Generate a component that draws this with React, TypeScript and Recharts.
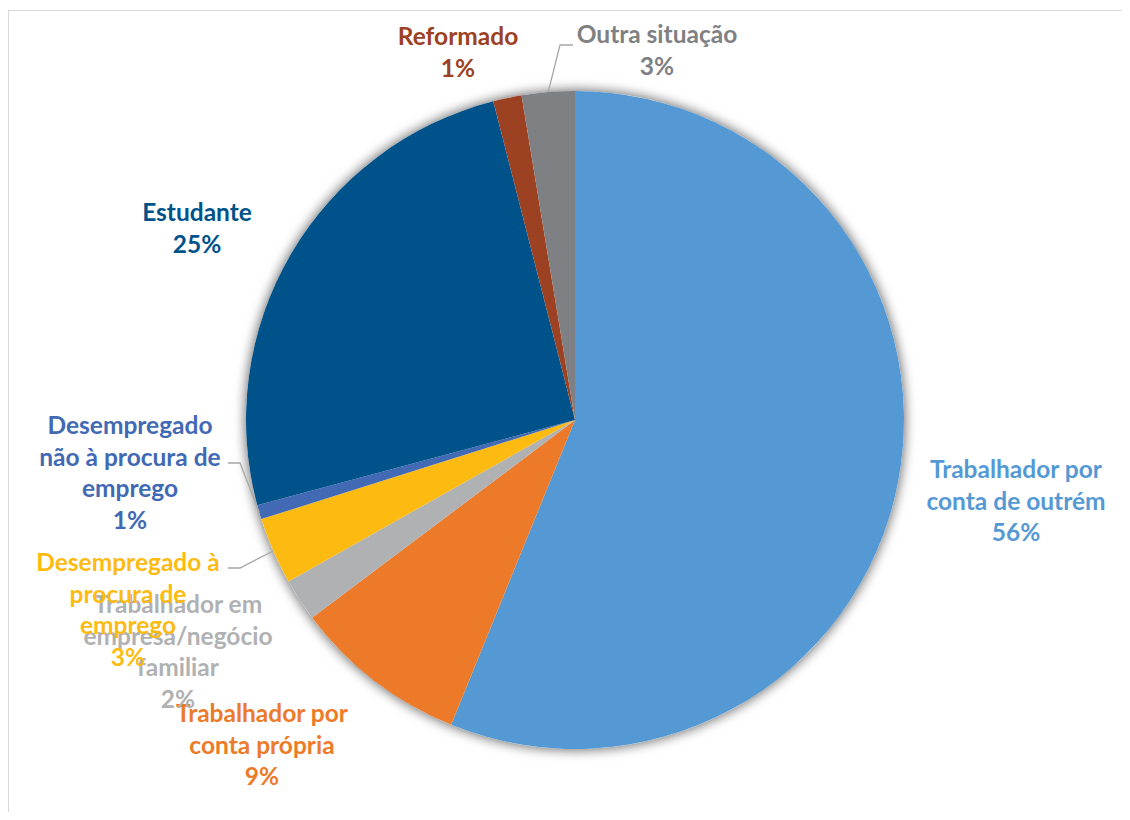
import React from 'react';
import { PieChart, Pie, Cell } from 'recharts';

// Categories, clockwise from 12 o'clock
const categories = [
  ['Trabalhador por', 'conta de outrém'],
  ['Trabalhador por', 'conta própria'],
  ['Trabalhador em', 'empresa/negócio', 'familiar'],
  ['Desempregado à', 'procura de', 'emprego'],
  ['Desempregado', 'não à procura de', 'emprego'],
  ['Estudante'],
  ['Reformado'],
  ['Outra situação'],
];

// shares (%)
const shares = [56.2, 8.6, 2.1, 3.3, 0.7, 25.2, 1.4, 2.6];

const COLORS = ['#5599D4', '#EC7A28', '#B0B1B3', '#FDBB12', '#4169B4', '#00538A', '#9C4121', '#7F8083'];
const TEXT_COLORS = ['#5599D4', '#EC7A28', '#B0B1B3', '#FDBB12', '#4169B4', '#00538A', '#9C4121', '#7F8083'];

// label block centre (first line) relative to pie centre
const LABEL_POS = [
  [441, 48],
  [-313, 292],
  [-397, 183],
  [-447, 141],
  [-445, 4],
  [-378, -209],
  [-117, -385],
  [82, -387],
];

// leader lines: elbow point relative to pie centre, and end point (near the text)
const LEADERS: Record<number, number[][]> = {
  3: [[-335, 148], [-347, 148]],
  4: [[-335, 43], [-347, 43]],
  7: [[-15, -375], [-2, -375]],
};

const total = shares.reduce((a, b) => a + b, 0);
const data = categories.map((c, i) => ({ name: c.join(' '), value: shares[i], lines: c }));

const CX = 567;
const CY = 412;
const R = 329;
const LINE_H = 31.5;
const RAD = Math.PI / 180;

const renderLabel = (props: any) => {
  const { cx, cy, midAngle, outerRadius, index } = props;
  const item = data[index];
  const [dx, dy] = LABEL_POS[index];
  const x = cx + dx;
  const y = cy + dy;
  const pct = Math.round((item.value / total) * 100) + '%';
  const lines = [...item.lines, pct];
  const leader = LEADERS[index];
  let pts = '';
  if (leader) {
    const sx = cx + outerRadius * Math.cos(-midAngle * RAD);
    const sy = cy + outerRadius * Math.sin(-midAngle * RAD);
    pts = [[sx, sy], ...leader.map(([lx, ly]) => [cx + lx, cy + ly])].map((p) => p.join(',')).join(' ');
  }
  return (
    <g key={`lbl-${index}`}>
      {leader && <polyline points={pts} fill="none" stroke="#A6A6A6" strokeWidth={1.3} />}
      <text
        x={x}
        y={y}
        textAnchor="middle"
        dominantBaseline="central"
        fill={TEXT_COLORS[index]}
        fontFamily="Lato, 'Open Sans', sans-serif"
        fontWeight={700}
        fontSize={24.5}
      >
        {lines.map((l, i) => (
          <tspan key={i} x={x} y={y + i * LINE_H}>
            {l}
          </tspan>
        ))}
      </text>
    </g>
  );
};

export default function App() {
  return (
    <div style={{ position: 'relative', width: 1114, height: 804, overflow: 'hidden', background: '#fff' }}>
      <style>{`.pie-shadow { filter: drop-shadow(0px 0px 6px rgba(0,0,0,0.35)); }`}</style>
      <div
        style={{
          position: 'absolute',
          left: 0,
          top: 2,
          width: 1300,
          height: 1000,
          borderLeft: '1px solid #D9D9D9',
          borderTop: '1px solid #D9D9D9',
        }}
      />
      <div style={{ position: 'absolute', left: 0, top: 0 }}>
        <PieChart width={1114} height={804} margin={{ top: 0, right: 0, bottom: 0, left: 0 }}>
          <Pie
            className="pie-shadow"
            data={[{ name: 'bg', value: 1 }]}
            dataKey="value"
            cx={CX}
            cy={CY}
            outerRadius={R}
            fill="#ffffff"
            stroke="none"
            isAnimationActive={false}
          />
          <Pie
            data={data}
            dataKey="value"
            nameKey="name"
            cx={CX}
            cy={CY}
            outerRadius={R}
            startAngle={90}
            endAngle={-270}
            stroke="none"
            label={renderLabel}
            labelLine={false}
            isAnimationActive={false}
          >
            {data.map((d, i) => (
              <Cell key={`cell-${i}`} fill={COLORS[i]} />
            ))}
          </Pie>
        </PieChart>
      </div>
    </div>
  );
}
